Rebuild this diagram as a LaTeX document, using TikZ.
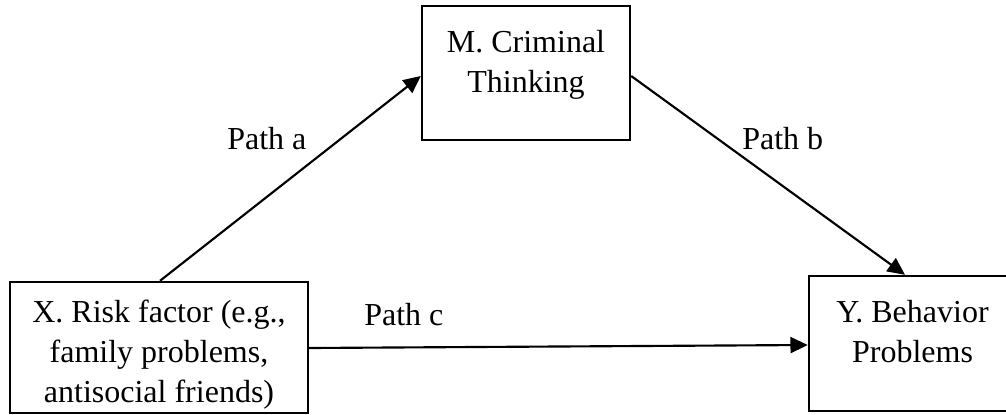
\documentclass[tikz,border=0pt]{standalone}
\usepackage{fontspec}
\setmainfont{Liberation Serif}
\usetikzlibrary{arrows.meta}
\begin{document}
\begin{tikzpicture}[x=0.75pt,y=-0.75pt,
  box/.style={draw,line width=1.8pt,inner sep=0pt,rectangle},
  txt/.style={inner sep=0pt,align=center,font=\fontsize{24}{30}\selectfont},
  lbl/.style={inner sep=0pt,font=\fontsize{24}{30}\selectfont},
  arr/.style={line width=1.6pt,-{Triangle[length=13pt,width=12pt]}}]
\useasboundingbox (0,0) rectangle (1006,414);
\node[box,minimum width=156pt,minimum height=100.5pt] (M) at (526,73) {};
\node[box,minimum width=223.5pt,minimum height=98.25pt] (X) at (159,347.5) {};
\node[box,minimum width=155.25pt,minimum height=101.25pt] (Y) at (912.5,343.5) {};
\node[txt,anchor=base] (Mt) at (526,92) {M. Criminal\\Thinking};
\node[txt,anchor=base] (Xt) at (159,402) {X. Risk factor (e.g.,\\family problems,\\antisocial friends)};
\node[txt,anchor=base] (Yt) at (912.5,362) {Y. Behavior\\Problems};
\node[lbl,anchor=base west] (pa) at (227,149) {Path a};
\node[lbl,anchor=base west] (pb) at (742,149) {Path b};
\node[lbl,anchor=base west] (pc) at (364,325) {Path c};
\draw[arr] (160,0 |- X.north) -- (M.west |- 0,76);
\draw[arr] (M.east |- 0,76) -- (905,0 |- Y.north);
\draw[arr] (X.east |- 0,348) -- (Y.west |- 0,345);
\end{tikzpicture}
\end{document}
